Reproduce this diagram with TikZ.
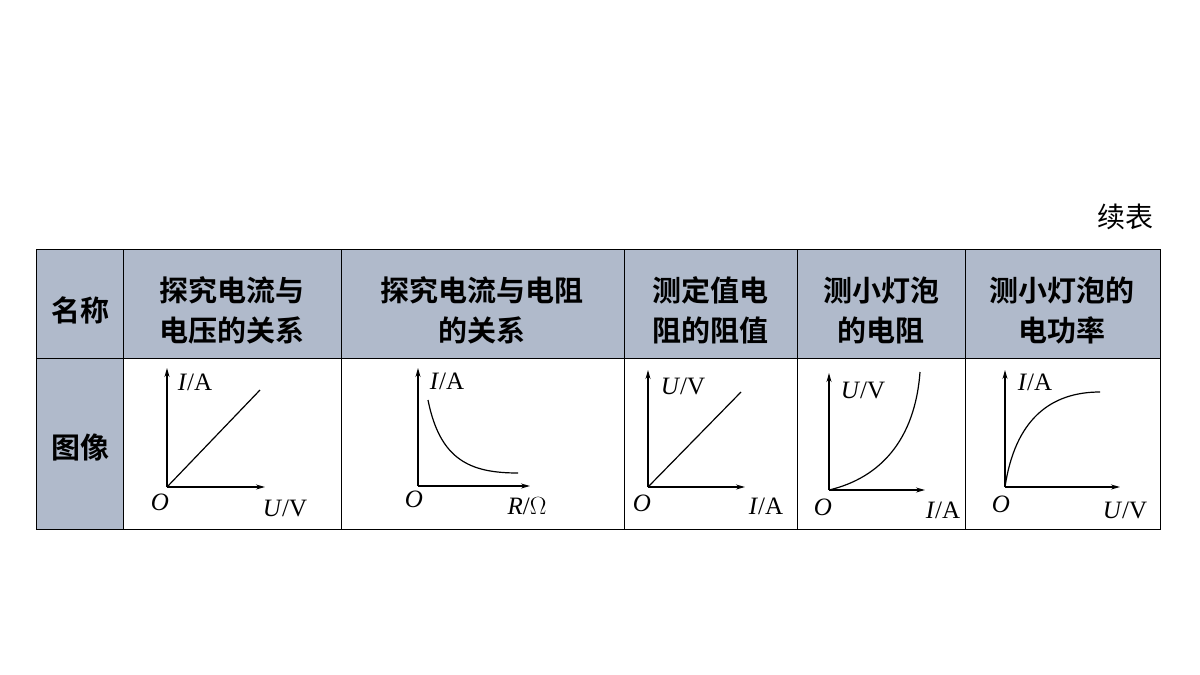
\documentclass[tikz,border=0pt]{standalone}
\usepackage{fontspec}
\setmainfont{Liberation Serif}
\newfontfamily\cjk{Noto Sans CJK SC}
\newfontfamily\cjkb{Noto Sans CJK SC Bold}
\usetikzlibrary{arrows.meta}
\definecolor{hdr}{HTML}{B0BACB}
\begin{document}
\begin{tikzpicture}[x=1pt,y=-1pt,
  hd/.style={font=\cjkb\fontsize{29}{40}\selectfont,align=center,inner sep=0},
  ax/.style={line width=1.2pt,-{Stealth[length=9pt,width=5pt]}},
  cv/.style={line width=1.2pt},
  lb/.style={font=\fontsize{25}{25}\selectfont,inner sep=0}]
\useasboundingbox (0,0) rectangle (1200,675);
\fill[hdr] (36,249) rectangle (1160,358);
\fill[hdr] (36,358) rectangle (123,529);
\draw[line width=1pt] (36,249) rectangle (1160,529);
\draw[line width=1pt] (36,358) -- (1160,358);
\foreach \x in {123,341,624,797,965} \draw[line width=1pt] (\x,249) -- (\x,529);
\node[font=\cjk\fontsize{28}{28}\selectfont] (xb) at (1125,217) {续表};
\node[hd] (h0) at (80,310) {名称};
\node[hd] (h1) at (232,310) {探究电流与\\电压的关系};
\node[hd] (h2) at (482,310) {探究电流与电阻\\的关系};
\node[hd] (h3) at (710,310) {测定值电\\阻的阻值};
\node[hd] (h4) at (881,310) {测小灯泡\\的电阻};
\node[hd] (h5) at (1062,310) {测小灯泡的\\电功率};
\node[hd] (r0) at (80,448) {图像};
% graph 1
\coordinate (o1) at (167,487);
\draw[ax] (o1) -- (167,368);
\draw[ax] (o1) -- (265,487);
\draw[cv] (o1) -- (260,390);
\node[lb] at (195,382) {\textit{I}/A};
\node[lb] at (160,502) {\textit{O}};
\node[lb] at (285,508) {\textit{U}/V};
% graph 2
\coordinate (o2) at (418,486);
\draw[ax] (o2) -- (418,368);
\draw[ax] (o2) -- (530,486);
\draw[cv] (428,400) .. controls (440,460) and (470,473) .. (518,473);
\node[lb] at (447,381) {\textit{I}/A};
\node[lb] at (414,499) {\textit{O}};
\node[lb] at (527,506) {\textit{R}/$\Omega$};
% graph 3
\coordinate (o3) at (648,487);
\draw[ax] (o3) -- (648,370);
\draw[ax] (o3) -- (745,487);
\draw[cv] (o3) -- (741,392);
\node[lb] at (683,386) {\textit{U}/V};
\node[lb] at (642,503) {\textit{O}};
\node[lb] at (766,506) {\textit{I}/A};
% graph 4
\coordinate (o4) at (829,490);
\draw[ax] (o4) -- (829,373);
\draw[ax] (o4) -- (925,490);
\draw[cv] (o4) .. controls (880,478) and (915,440) .. (920,372);
\node[lb] at (863,390) {\textit{U}/V};
\node[lb] at (823,507) {\textit{O}};
\node[lb] at (943,510) {\textit{I}/A};
% graph 5
\coordinate (o5) at (1005,487);
\draw[ax] (o5) -- (1005,370);
\draw[ax] (o5) -- (1120,487);
\draw[cv] (o5) .. controls (1015,420) and (1050,392) .. (1100,392);
\node[lb] at (1035,382) {\textit{I}/A};
\node[lb] at (1001,504) {\textit{O}};
\node[lb] at (1125,510) {\textit{U}/V};
\end{tikzpicture}
\end{document}
